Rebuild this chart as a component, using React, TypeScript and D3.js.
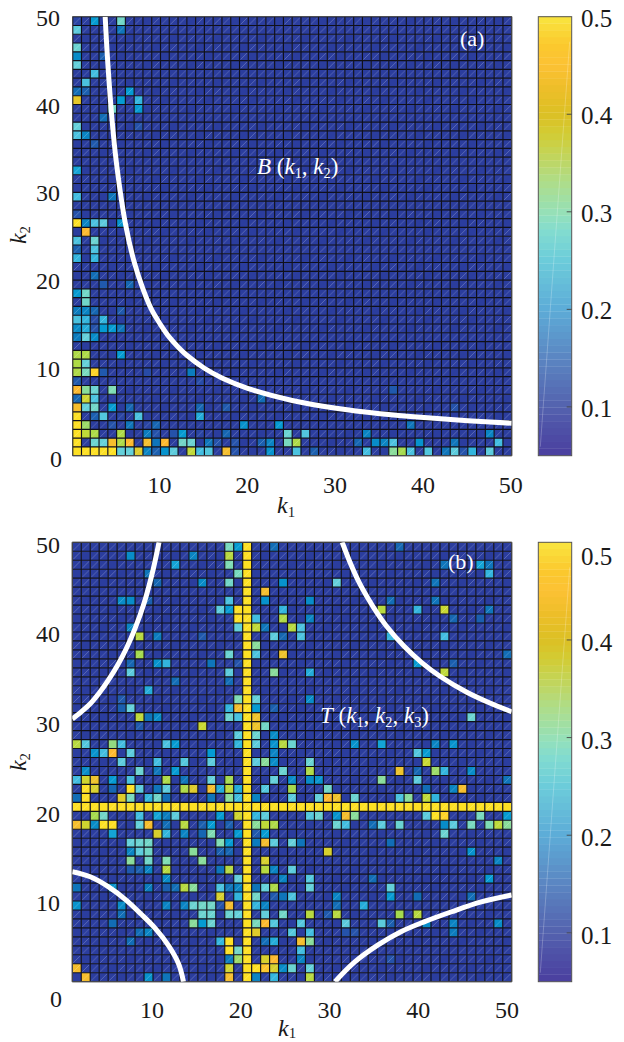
import React from "react";
import * as d3 from "d3";

const gridSizeA = 50;
const gridSizeB = 49;
const baseValue = 0.06;

// each row: [row from bottom, col, value, col, value, ...]
const cellsA: number[][] = [
  [0, 0,.5, 1,.5, 2,.5, 3,.5, 4,.5, 5,.28, 6,.28, 7,.43, 8,.17, 9,.12, 10,.19, 11,.27, 13,.39, 14,.24, 15,.26, 17,.46, 18,.1, 22,.19, 25,.25, 27,.12, 33,.24, 36,.33, 37,.36, 38,.25, 40,.26, 42,.15, 43,.27, 44,.1, 45,.23, 47,.27],
  [1, 0,.5, 2,.29, 3,.28, 4,.46, 5,.37, 6,.47, 8,.46, 9,.15, 10,.47, 12,.3, 13,.29, 15,.15, 16,.1, 18,.1, 21,.12, 22,.17, 24,.31, 25,.37, 32,.13, 34,.18, 35,.17, 36,.25, 39,.19, 43,.15, 48,.24],
  [2, 0,.5, 1,.39, 2,.37, 5,.37, 8,.16, 9,.1, 11,.1, 12,.2, 14,.08, 17,.13, 24,.29, 26,.26, 33,.17, 47,.17],
  [3, 0,.5, 1,.35, 4,.1, 6,.15, 8,.08, 9,.13, 19,.19, 23,.2, 38,.15],
  [4, 0,.5, 2,.12, 3,.26, 5,.08, 7,.25, 14,.22],
  [5, 0,.46, 1,.28, 2,.3, 4,.2, 6,.13, 14,.13, 17,.11, 43,.1],
  [6, 0,.13, 1,.41, 2,.25, 21,.14],
  [7, 0,.47, 1,.33, 2,.29, 4,.32, 36,.11],
  [8, 0,.11, 14,.09],
  [9, 0,.37, 1,.31, 2,.49, 3,.11, 8,.09, 13,.16],
  [10, 0,.37, 1,.28],
  [11, 0,.37, 1,.37, 5,.2],
  [13, 0,.16, 1,.28, 2,.18],
  [14, 0,.18, 1,.22, 2,.1, 3,.2, 4,.2, 5,.15],
  [15, 0,.25, 1,.23, 2,.09, 3,.23],
  [16, 0,.16, 1,.17, 2,.13, 5,.11],
  [17, 1,.3],
  [18, 0,.2, 1,.3],
  [19, 3,.11, 6,.13],
  [20, 2,.14],
  [22, 0,.23, 2,.23],
  [23, 0,.12, 2,.25],
  [24, 0,.25, 2,.29],
  [25, 1,.47],
  [26, 0,.5, 1,.17, 2,.25, 3,.27, 5,.19],
  [27, 0,.1],
  [29, 0,.24, 4,.15],
  [32, 0,.21],
  [35, 2,.11],
  [36, 0,.25, 1,.17],
  [37, 0,.28, 7,.1],
  [38, 3,.14],
  [39, 4,.3, 7,.2],
  [40, 0,.44, 5,.2, 7,.23],
  [41, 0,.14, 1,.12, 6,.2],
  [42, 1,.25],
  [43, 2,.24],
  [44, 0,.28],
  [45, 0,.18, 3,.12],
  [46, 0,.29],
  [48, 0,.27, 5,.15],
  [49, 0,.08, 2,.2, 5,.3],
];

const cellsB: number[][] = [
  [48, 17,.31, 18,.2, 19,.5, 22,.14, 36,.13],
  [47, 6,.18, 13,.17, 17,.38, 19,.5],
  [46, 11,.21, 17,.32, 19,.5, 41,.15, 45,.21, 46,.15],
  [45, 8,.15, 18,.31, 19,.5, 46,.23],
  [44, 9,.13, 14,.18, 17,.3, 19,.5, 23,.19, 29,.28, 40,.15],
  [43, 19,.5, 21,.46],
  [42, 5,.18, 6,.18, 8,.12, 17,.25, 19,.5, 21,.19, 26,.18, 35,.14, 40,.15],
  [41, 16,.27, 17,.2, 18,.5, 19,.5, 23,.23, 34,.38, 38,.23, 41,.4, 46,.15],
  [40, 18,.5, 19,.5, 20,.24, 23,.37, 26,.17, 42,.13, 45,.12],
  [39, 6,.17, 18,.28, 19,.5, 20,.39, 21,.15, 24,.38, 25,.25],
  [38, 7,.38, 9,.16, 14,.11, 19,.5, 22,.27, 23,.13, 25,.25, 35,.23, 41,.24],
  [37, 19,.5, 20,.33],
  [36, 7,.36, 17,.29, 19,.5, 20,.25, 23,.45, 48,.14],
  [35, 6,.13, 9,.19, 10,.23, 15,.15, 18,.1, 19,.5, 38,.2, 42,.12],
  [34, 6,.27, 17,.27, 19,.5, 22,.33, 26,.22, 41,.39],
  [33, 11,.14, 17,.14, 19,.5],
  [32, 8,.22, 19,.5],
  [31, 5,.11, 18,.32, 19,.5, 20,.28, 26,.18],
  [30, 5,.12, 6,.28, 17,.23, 18,.46, 19,.5, 20,.2, 22,.12],
  [29, 7,.39, 8,.15, 9,.18, 17,.29, 18,.25, 19,.5, 20,.45, 44,.29],
  [28, 7,.11, 14,.4, 19,.5, 20,.45, 21,.3],
  [27, 18,.27, 19,.5, 20,.29, 22,.18],
  [26, 0,.38, 1,.26, 4,.34, 5,.24, 10,.25, 11,.2, 18,.23, 19,.5, 20,.27, 22,.19, 23,.38, 24,.29, 31,.19, 34,.21, 40,.17, 42,.19],
  [25, 2,.19, 3,.24, 4,.47, 6,.27, 15,.2, 19,.5, 22,.17, 38,.26, 39,.2],
  [24, 5,.27, 9,.24, 12,.26, 15,.27, 19,.5, 20,.27, 21,.33, 22,.18, 26,.29, 39,.4],
  [23, 1,.18, 7,.29, 9,.15, 11,.2, 19,.5, 23,.29, 26,.37, 36,.45, 38,.13, 40,.35, 41,.23, 44,.18],
  [22, 0,.24, 1,.41, 2,.45, 4,.2, 6,.25, 10,.37, 12,.15, 15,.28, 17,.36, 19,.5, 22,.28, 24,.18, 26,.18, 27,.19, 34,.33, 38,.27, 48,.15],
  [21, 1,.5, 2,.42, 4,.13, 6,.5, 7,.27, 9,.15, 10,.27, 12,.37, 13,.43, 15,.46, 16,.22, 17,.39, 18,.22, 19,.5, 21,.26, 24,.36, 28,.3, 39,.14, 42,.17, 43,.46],
  [20, 0,.14, 1,.5, 5,.43, 6,.31, 8,.23, 9,.3, 10,.14, 15,.15, 17,.33, 18,.24, 19,.5, 20,.17, 24,.27, 27,.28, 28,.47, 29,.45, 31,.29, 36,.25, 37,.33, 39,.39, 40,.23],
  [19, 0,.5, 1,.5, 2,.5, 3,.5, 4,.5, 5,.5, 6,.5, 7,.5, 8,.5, 9,.5, 10,.5, 11,.5, 12,.5, 13,.5, 14,.5, 15,.5, 16,.5, 17,.5, 18,.5, 19,.5, 20,.5, 21,.5, 22,.5, 23,.5, 24,.5, 25,.5, 26,.5, 27,.5, 28,.5, 29,.5, 30,.5, 31,.5, 32,.5, 33,.5, 34,.5, 35,.5, 36,.5, 37,.5, 38,.5, 39,.5, 40,.5, 41,.5, 42,.5, 43,.5, 44,.5, 45,.5, 46,.5, 47,.5, 48,.5],
  [18, 2,.36, 3,.3, 7,.24, 9,.21, 10,.16, 11,.27, 16,.2, 18,.41, 19,.5, 20,.23, 21,.27, 26,.26, 27,.29, 29,.19, 30,.46, 31,.33, 39,.27, 40,.5, 41,.49, 45,.31, 48,.2],
  [17, 0,.46, 1,.41, 2,.18, 3,.5, 4,.5, 7,.28, 8,.46, 10,.14, 12,.38, 14,.12, 15,.2, 17,.12, 19,.5, 20,.33, 21,.39, 22,.37, 29,.29, 30,.24, 33,.14, 34,.27, 36,.29, 41,.18, 42,.27, 44,.31, 46,.32, 47,.39, 48,.33],
  [16, 4,.21, 9,.42, 10,.23, 12,.17, 14,.13, 15,.32, 18,.2, 19,.5, 20,.11, 21,.2, 41,.29],
  [15, 6,.28, 7,.29, 8,.3, 16,.32, 17,.2, 19,.5, 20,.16, 21,.46, 22,.27, 24,.28, 25,.15, 35,.14],
  [14, 6,.17, 7,.27, 8,.3, 13,.33, 16,.12, 17,.13, 19,.5, 28,.42, 44,.19],
  [13, 6,.33, 8,.3, 10,.32, 14,.33, 19,.5, 21,.42, 47,.17],
  [12, 6,.11, 7,.12, 8,.17, 10,.38, 16,.15, 17,.38, 19,.5, 21,.38, 22,.17, 24,.27],
  [11, 10,.18, 18,.28, 19,.5, 23,.17, 26,.26, 33,.14, 46,.2],
  [10, 0,.15, 4,.19, 8,.16, 10,.12, 11,.14, 12,.38, 13,.33, 16,.25, 17,.15, 18,.17, 19,.5, 20,.15, 21,.28, 22,.37, 26,.28, 35,.28],
  [9, 16,.42, 18,.23, 19,.5, 20,.3, 22,.11, 23,.15, 24,.25, 29,.17, 35,.2, 38,.14, 44,.14],
  [8, 0,.19, 5,.18, 10,.17, 12,.17, 13,.29, 14,.3, 15,.3, 16,.1, 17,.46, 19,.5, 20,.23, 21,.17, 29,.14, 32,.22],
  [7, 5,.14, 14,.29, 15,.29, 17,.29, 18,.28, 19,.5, 21,.28, 23,.3, 26,.38, 28,.11, 29,.38, 36,.36, 38,.38],
  [6, 4,.14, 13,.33, 14,.2, 15,.29, 19,.5, 20,.31, 21,.47, 22,.26, 25,.26, 30,.27, 34,.27, 35,.12, 39,.18, 42,.17, 47,.18],
  [5, 7,.14, 8,.17, 19,.5, 20,.43, 24,.26, 26,.24, 30,.1, 31,.1, 42,.16],
  [4, 6,.14, 16,.23, 17,.5, 19,.5, 21,.14, 22,.22, 25,.46, 26,.33],
  [3, 17,.5, 18,.3, 19,.5, 25,.24],
  [2, 17,.16, 18,.35, 19,.5, 21,.42, 22,.47, 25,.17, 35,.1],
  [1, 0,.46, 17,.41, 19,.5, 20,.5, 21,.48, 22,.42, 23,.18, 24,.29, 26,.28],
  [0, 1,.46, 8,.19, 10,.15, 17,.46, 19,.5, 20,.17, 22,.23, 26,.38],
];

// white curves in (k1, k2)
const curveA_k1 = [3.7, 4, 4.5, 5, 6, 7, 8, 9, 10, 11, 12, 13, 15, 17, 20, 25, 30, 35, 40, 45, 50];
const curveA_k2 = [50, 44.7, 38.05, 33.2, 26.45, 22.07, 19.0, 16.6, 14.94, 13.5, 12.39, 11.44, 9.96, 8.85, 7.64, 6.29, 5.41, 4.79, 4.34, 3.98, 3.7];
const curveBL_k1 = [1, 3, 5, 7, 8.6, 10.2, 11.75, 12.85, 13.4];
const curveBL_k2 = [13.26, 12.7, 11.6, 10.1, 8.6, 7, 5, 3, 1];
const curveTL_k1 = [1, 2, 3, 4, 5, 6, 7, 8, 9, 10, 10.67];
const curveTL_k2 = [30.3, 31.1, 32, 33.2, 34.6, 36.2, 38.1, 40.4, 43.2, 46.9, 50];
const curveTR_k1 = [31.1, 32, 33, 34, 35, 36, 38, 40, 42, 45, 47.5, 50];
const curveTR_k2 = [50, 47.7, 45.5, 43.7, 42.1, 40.7, 38.4, 36.56, 35.06, 33.27, 32.1, 31.1];
const curveBR_k1 = [30.3, 32.5, 35.1, 37.7, 40.3, 43.3, 46.6, 50];
const curveBR_k2 = [1, 3.2, 5.1, 6.6, 7.7, 8.8, 9.9, 10.67];

const xTicks = [10, 20, 30, 40, 50];
const yTicks = [10, 20, 30, 40, 50];
const barTicks = [0.1, 0.2, 0.3, 0.4, 0.5];

const cellDomain = [.05, .08, .1, .13, .16, .2, .24, .28, .32, .36, .4, .44, .47, .5];
const cellColors = ["#2b399b", "#2a44a3", "#2552aa", "#1666b2", "#0b7cbe", "#059bd2", "#42bde0", "#64d0da", "#7fdcb4", "#a5da4e", "#c8d832", "#e6c82a", "#fdb92e", "#fde024"];
const barDomain = [.05, .08, .1, .15, .2, .25, .28, .3, .33, .36, .38, .4, .43, .45, .47, .5];
const barColors = ["#4b3f9f", "#4f52a8", "#5462ae", "#5b86c2", "#5dacd8", "#6cccda", "#82dcd0", "#96e0b6", "#aedd8a", "#c4d456", "#d2cc34", "#dcc024", "#f0be2a", "#fcc234", "#fbc82e", "#f9e63f"];

const cellColor = d3.scaleLinear<string>().domain(cellDomain).range(cellColors).clamp(true);
const barColor = d3.scaleLinear<string>().domain(barDomain).range(barColors).clamp(true);
const serif = "'Liberation Serif', serif";
const ink = "#1a1a1a";

function toGrid(rows: number[][]) {
  const m = new Map<string, number>();
  rows.forEach((r) => {
    for (let i = 1; i < r.length; i += 2) m.set(`${r[i]},${r[0]}`, r[i + 1]);
  });
  return m;
}

type PanelProps = { rows: number[][]; n: number; kMin: number; x0: number; x1: number; y0: number; y1: number };

function Heat({ rows, n, kMin, x0, x1, y0, y1 }: PanelProps) {
  const x = d3.scaleLinear().domain([kMin, kMin + n]).range([x0, x1]);
  const y = d3.scaleLinear().domain([kMin, kMin + n]).range([y1, y0]);
  const grid = toGrid(rows);
  const rects: React.ReactNode[] = [];
  const diags: React.ReactNode[] = [];
  for (let j = 0; j < n; j++) {
    for (let i = 0; i < n; i++) {
      const v = grid.get(`${i},${j}`) ?? baseValue;
      const xa = x(kMin + i), xb = x(kMin + i + 1), ya = y(kMin + j), yb = y(kMin + j + 1);
      rects.push(<rect key={`${i}-${j}`} x={xa} y={yb} width={xb - xa} height={ya - yb} fill={cellColor(v)} />);
      const h = (i * 7 + j * 13 + ((i * j) % 5)) % 5;
      if (h !== 0) {
        diags.push(
          <line key={`d${i}-${j}`} x1={xa + 1} y1={ya - 1} x2={xb - 1} y2={yb + 1} stroke="#fff"
            strokeOpacity={h % 2 ? 0.38 : 0.12} strokeWidth={h % 2 ? 0.6 : 1.2} />
        );
      }
    }
  }
  const lines = d3.range(n + 1);
  return (
    <g>
      {rects}
      {diags}
      {lines.map((i) => (
        <line key={`v${i}`} x1={x(kMin + i)} x2={x(kMin + i)} y1={y0} y2={y1} stroke="#10101a" strokeWidth={1.15} />
      ))}
      {lines.map((i) => (
        <line key={`h${i}`} y1={y(kMin + i)} y2={y(kMin + i)} x1={x0} x2={x1} stroke="#10101a" strokeWidth={1.15} />
      ))}
      <rect x={x0} y={y0} width={x1 - x0} height={y1 - y0} fill="none" stroke="#555" strokeWidth={0.8} />
    </g>
  );
}

function Curve({ k1, k2, x, y, clip }: { k1: number[]; k2: number[]; x: d3.ScaleLinear<number, number>; y: d3.ScaleLinear<number, number>; clip: string }) {
  const pts = k1.map((v, i) => [v, k2[i]] as [number, number]);
  const path = d3.line<[number, number]>().x((d) => x(d[0])).y((d) => y(d[1])).curve(d3.curveCatmullRom.alpha(0.5))(pts)!;
  return <path d={path} fill="none" stroke="#fff" strokeWidth={5} clipPath={`url(#${clip})`} />;
}

function ColorBar({ y0, y1, labelY }: { y0: number; y1: number; labelY: (t: number) => number }) {
  const bx0 = 538.3, bx1 = 571.7;
  const s = d3.scaleLinear().domain([0.05, 0.5]).range([y1, y0]);
  const bands = d3.range(64);
  const dv = 0.45 / 64;
  return (
    <g>
      {bands.map((b) => {
        const v = 0.05 + b * dv;
        return <rect key={b} x={bx0} y={s(v + dv) - 0.3} width={bx1 - bx0} height={s(v) - s(v + dv) + 0.3} fill={barColor(v + dv / 2)} />;
      })}
      <line x1={bx0 + 2} y1={y1 - 9} x2={bx1 - 2} y2={y0 + 25} stroke="#fff" strokeOpacity={0.3} strokeWidth={0.8} />
      <rect x={bx0} y={y0} width={bx1 - bx0} height={y1 - y0} fill="none" stroke="#555" strokeWidth={1} />
      {barTicks.map((t) => (
        <g key={t}>
          {t < 0.5 && <line x1={bx1 - 5} x2={bx1} y1={s(t)} y2={s(t)} stroke="#444" strokeWidth={0.9} />}
          <text x={581} y={labelY(t)} fontFamily={serif} fontSize={25} fill={ink}>{t.toFixed(1)}</text>
        </g>
      ))}
    </g>
  );
}

function Sym({ x, y, parts, fill, size, rotate, shift }: { x: number; y: number; parts: [string, "i" | "s" | "n"][]; fill: string; size: number; rotate?: boolean; shift?: number }) {
  const sub = size * 0.62;
  const drop = shift ?? size * 0.16;
  let prev: string = "n";
  return (
    <text x={x} y={y} fontFamily={serif} fontSize={size} fill={fill} textAnchor={rotate ? "middle" : "start"}
      transform={rotate ? `rotate(-90 ${x} ${y})` : undefined} xmlSpace="preserve" style={{ whiteSpace: "pre" }}>
      {parts.map(([t, kind], i) => {
        const dy = kind === "s" ? drop : prev === "s" ? -drop : 0;
        prev = kind;
        return (
          <tspan key={i} dy={dy} fontStyle={kind === "i" ? "italic" : "normal"} fontSize={kind === "s" ? sub : size}>{t}</tspan>
        );
      })}
    </text>
  );
}

export default function App() {
  const ax0 = 72.7, ax1 = 511.7, ay0 = 16.7, ay1 = 455.7;
  const bx0 = 72.3, bx1 = 511.7, by0 = 542.3, by1 = 981.7;
  const xA = d3.scaleLinear().domain([0, gridSizeA]).range([ax0, ax1]);
  const yA = d3.scaleLinear().domain([0, gridSizeA]).range([ay1, ay0]);
  const xB = d3.scaleLinear().domain([1, gridSizeB + 1]).range([bx0, bx1]);
  const yB = d3.scaleLinear().domain([1, gridSizeB + 1]).range([by1, by0]);
  const xLabelB = d3.scaleLinear().domain([10, 50]).range([152, 507]);
  const lblStyle = { fontFamily: serif, fontSize: 24, fill: ink } as const;
  const curvesB = [
    [curveBL_k1, curveBL_k2],
    [curveTL_k1, curveTL_k2],
    [curveTR_k1, curveTR_k2],
    [curveBR_k1, curveBR_k2],
  ];
  return (
    <svg width={624} height={1042} style={{ position: "absolute", left: 0, top: 0, display: "block" }}>
      <defs>
        <clipPath id="clipA"><rect x={ax0} y={ay0} width={ax1 - ax0} height={ay1 - ay0} /></clipPath>
        <clipPath id="clipB"><rect x={bx0} y={by0} width={bx1 - bx0} height={by1 - by0} /></clipPath>
      </defs>

      <Heat rows={cellsA} n={gridSizeA} kMin={0} x0={ax0} x1={ax1} y0={ay0} y1={ay1} />
      <Curve k1={curveA_k1} k2={curveA_k2} x={xA} y={yA} clip="clipA" />
      {xTicks.map((t) => (
        <text key={t} x={xA(t) - 1} y={492.7} textAnchor="middle" {...lblStyle}>{t}</text>
      ))}
      <text x={62} y={466.7} textAnchor="end" {...lblStyle}>0</text>
      {yTicks.map((t) => (
        <text key={t} x={60} y={yA(t) + 9} textAnchor="end" {...lblStyle}>{t}</text>
      ))}
      <Sym x={277} y={513} size={24} fill={ink} parts={[["k", "i"], ["1", "s"]]} />
      <Sym x={26} y={235} size={24} fill={ink} rotate parts={[["k", "i"], ["2", "s"]]} />
      <text x={460} y={46} fontFamily={serif} fontSize={22} fill="#fff">(a)</text>
      <Sym x={257} y={174} size={23} fill="#fff" parts={[["B", "i"], [" (", "n"], ["k", "i"], ["1", "s"], [", ", "n"], ["k", "i"], ["2", "s"], [")", "n"]]} />
      <ColorBar y0={ay0} y1={ay1} labelY={(t) => (t === 0.5 ? 26.7 : ay1 - (t - 0.05) / 0.45 * (ay1 - ay0) + 10)} />

      <Heat rows={cellsB} n={gridSizeB} kMin={1} x0={bx0} x1={bx1} y0={by0} y1={by1} />
      {curvesB.map(([k1s, k2s], i) => (
        <Curve key={i} k1={k1s} k2={k2s} x={xB} y={yB} clip="clipB" />
      ))}
      {xTicks.map((t) => (
        <text key={t} x={xLabelB(t)} y={1018} textAnchor="middle" {...lblStyle}>{t}</text>
      ))}
      <text x={62} y={1006.7} textAnchor="end" {...lblStyle}>0</text>
      {yTicks.map((t) => (
        <text key={t} x={60} y={yB(t) + 10.5} textAnchor="end" {...lblStyle}>{t}</text>
      ))}
      <Sym x={278} y={1035.5} size={24} shift={2.2} fill={ink} parts={[["k", "i"], ["1", "s"]]} />
      <Sym x={26} y={762} size={24} fill={ink} rotate parts={[["k", "i"], ["2", "s"]]} />
      <text x={448} y={569} fontFamily={serif} fontSize={22} fill="#fff">(b)</text>
      <Sym x={320} y={723} size={23} fill="#fff" parts={[["T", "i"], [" (", "n"], ["k", "i"], ["1", "s"], [", ", "n"], ["k", "i"], ["2", "s"], [", ", "n"], ["k", "i"], ["3", "s"], [")", "n"]]} />
      <ColorBar y0={by0} y1={by1} labelY={(t) => (t === 0.5 ? 565 : by1 - (t - 0.05) / 0.45 * (by1 - by0) + 11)} />
    </svg>
  );
}
